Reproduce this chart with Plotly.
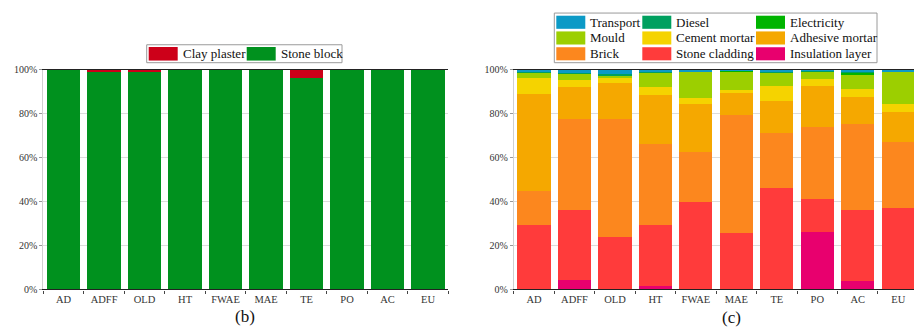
import plotly.graph_objects as go

W, H = 914, 331

regions = ["AD", "ADFF", "OLD", "HT", "FWAE", "MAE", "TE", "PO", "AC", "EU"]

# (b) share of wall materials, %
stone_block = [100.0, 98.8, 98.8, 100.0, 100.0, 100.0, 96.2, 100.0, 100.0, 100.0]
clay_plaster = [0.0, 1.2, 1.2, 0.0, 0.0, 0.0, 3.8, 0.0, 0.0, 0.0]

# (c) share of contributors, %, listed bottom to top of each stack
insulation_layer = [0.0, 4.2, 0.0, 1.5, 0.0, 0.4, 0.0, 26.0, 3.8, 0.0]
stone_cladding = [29.3, 32.1, 23.8, 27.8, 39.7, 25.4, 46.3, 15.2, 32.5, 37.1]
brick = [15.7, 41.3, 53.8, 36.7, 23.0, 53.5, 24.9, 32.7, 39.1, 29.9]
adhesive_mortar = [44.0, 14.5, 16.4, 22.7, 21.6, 10.1, 14.4, 18.9, 12.3, 13.8]
cement_mortar = [7.4, 3.0, 2.8, 3.2, 2.8, 1.2, 6.8, 2.8, 3.5, 3.4]
mould = [2.6, 3.3, 0.5, 7.0, 12.2, 8.9, 6.3, 3.8, 6.7, 15.0]
electricity = [0.0, 0.2, 0.1, 0.1, 0.1, 0.1, 0.1, 0.1, 0.8, 0.1]
diesel = [0.1, 0.1, 0.6, 0.1, 0.1, 0.1, 0.1, 0.1, 0.1, 0.1]
transport = [0.9, 1.3, 2.0, 0.9, 0.5, 0.3, 1.1, 0.4, 1.2, 0.6]

tick_vals = [0, 20, 40, 60, 80, 100]
tick_text = ["0%", "20%", "40%", "60%", "80%", "100%"]

series_b = [
    ("Stone block", stone_block, "#00911e"),
    ("Clay plaster", clay_plaster, "#cd0019"),
]
series_c = [
    ("Insulation layer", insulation_layer, "#e8006e"),
    ("Stone cladding", stone_cladding, "#ff3b3b"),
    ("Brick", brick, "#fc871e"),
    ("Adhesive mortar", adhesive_mortar, "#f5a800"),
    ("Cement mortar", cement_mortar, "#f5d300"),
    ("Mould", mould, "#9ccf00"),
    ("Electricity", electricity, "#00b400"),
    ("Diesel", diesel, "#00a05f"),
    ("Transport", transport, "#0c9ac6"),
]

SERIF = "Liberation Serif, Times New Roman, serif"


def px(x):
    return x / W


def py(y):
    return (H - y) / H


fig = go.Figure()

for name, vals, col in series_b:
    fig.add_trace(go.Bar(x=regions, y=vals, name=name, marker_color=col,
                         marker_line_width=0, xaxis="x", yaxis="y",
                         showlegend=False))
for name, vals, col in series_c:
    fig.add_trace(go.Bar(x=regions, y=vals, name=name, marker_color=col,
                         marker_line_width=0, xaxis="x2", yaxis="y2",
                         showlegend=False))

y_dom = [py(293.3), py(66.7)]

xaxis_common = dict(
    type="category", showline=True, linecolor="#222", linewidth=1.2,
    mirror=True, ticks="outside", tickson="boundaries", ticklen=3,
    tickcolor="#444", showgrid=False,
    tickfont=dict(family=SERIF, size=10.5, color="#333"),
)
yaxis_common = dict(
    range=[0, 100], tickvals=tick_vals, ticktext=tick_text,
    showgrid=True, gridcolor="#dcdcdc", gridwidth=1, zeroline=False,
    showline=True, linecolor="#d0d0d0", linewidth=1,
    ticks="outside", ticklen=3, tickcolor="#999",
    tickfont=dict(family=SERIF, size=10, color="#333"),
)

fig.update_layout(
    width=W, height=H,
    margin=dict(l=0, r=0, t=0, b=0),
    paper_bgcolor="white", plot_bgcolor="white",
    barmode="stack", bargap=0.18,
    xaxis=dict(domain=[px(43.3), px(448.3)], anchor="y",
               range=[-0.5, 9.5], **xaxis_common),
    yaxis=dict(domain=y_dom, anchor="x", **yaxis_common),
    xaxis2=dict(domain=[px(513.8), 1.0], anchor="y2",
                range=[-0.5, 9.39], **xaxis_common),
    yaxis2=dict(domain=y_dom, anchor="x2", **yaxis_common),
)

shapes = []
annotations = []


def legend_box(x0, y0, x1, y1):
    shapes.append(dict(type="rect", xref="paper", yref="paper",
                       x0=px(x0), x1=px(x1), y0=py(y1), y1=py(y0),
                       line=dict(color="#9a9a9a", width=1),
                       fillcolor="white", layer="above"))


def legend_item(sx, cy, name, col, sw=29, sh=14):
    shapes.append(dict(type="rect", xref="paper", yref="paper",
                       x0=px(sx), x1=px(sx + sw),
                       y0=py(cy + sh / 2), y1=py(cy - sh / 2),
                       line=dict(width=0), fillcolor=col, layer="above"))
    annotations.append(dict(x=px(sx + sw + 3), y=py(cy), xref="paper",
                            yref="paper", text=name, showarrow=False,
                            xanchor="left", yanchor="middle",
                            font=dict(family=SERIF, size=13, color="#111")))


# legend of panel (b): top of stack first
legend_box(146.7, 41.0, 342.0, 59.5)
b_cols = [148.7, 246.7]
for i, (name, vals, col) in enumerate(series_b[::-1]):
    legend_item(b_cols[i], 50.3, name, col)

# legend of panel (c): 3 x 3 grid, top of stack first
legend_box(554.3, 8.3, 877.0, 59.5)
c_cols = [556.3, 642.3, 756.0]
c_rows = [17.8, 34.0, 50.3]
for i, (name, vals, col) in enumerate(series_c[::-1]):
    legend_item(c_cols[i % 3], c_rows[i // 3], name, col, sh=13.5)

# panel captions
annotations.append(dict(x=px(245), y=py(321), xref="paper", yref="paper",
                        text="(b)", showarrow=False, xanchor="center",
                        yanchor="middle",
                        font=dict(family=SERIF, size=17, color="#111")))
annotations.append(dict(x=px(731.5), y=py(322), xref="paper", yref="paper",
                        text="(c)", showarrow=False, xanchor="center",
                        yanchor="middle",
                        font=dict(family=SERIF, size=17, color="#111")))

fig.update_layout(shapes=shapes, annotations=annotations)

fig.write_html("out.html")
